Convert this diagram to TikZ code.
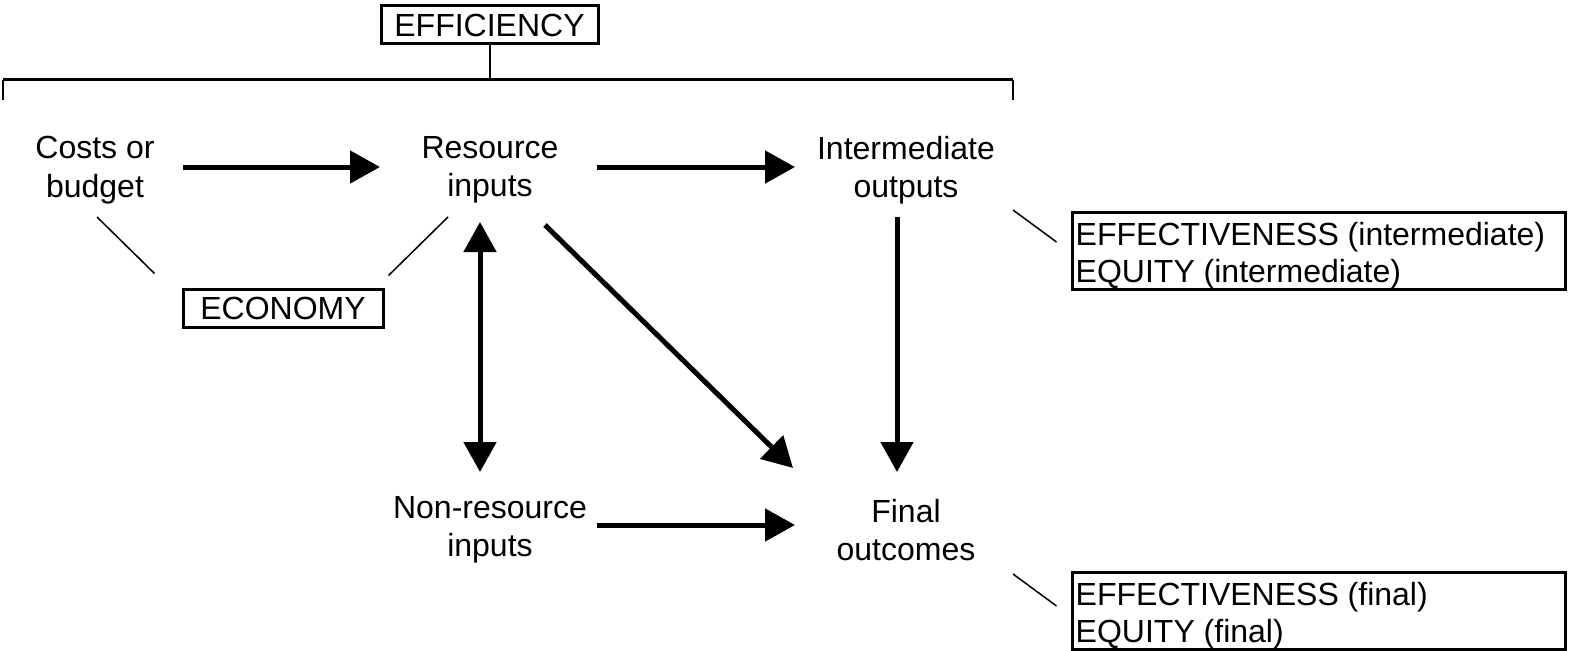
\documentclass[tikz,border=0pt]{standalone}
\usepackage{fontspec}
\setmainfont{Liberation Sans}
\usetikzlibrary{arrows.meta}
\begin{document}
\begin{tikzpicture}[x=1bp,y=-1bp,
  lbl/.style={align=center,font=\fontsize{32bp}{38.5bp}\selectfont,inner sep=0pt},
  boxlbl/.style={draw,line width=3bp,inner sep=0pt,font=\fontsize{32bp}{38bp}\selectfont},
  sidebox/.style={draw,line width=3bp,inner sep=0pt,minimum width=493bp,minimum height=77bp},
  sidetext/.style={inner sep=0pt,anchor=west,align=left,font=\fontsize{32bp}{37.5bp}\selectfont},
  arr/.style={line width=5bp,-{Triangle[length=30bp,width=32bp]}},
  dbl/.style={line width=5bp,{Triangle[length=30bp,width=32bp]}-{Triangle[length=30bp,width=32bp]}},
  thin/.style={line width=1.5bp}]
\useasboundingbox (0,0) rectangle (1570,651);
% nodes
\node[boxlbl,minimum width=217bp,minimum height=38bp] (eff) at (489.5,25) {EFFICIENCY};
\node[lbl] (cost) at (95,170) {Costs or\\budget};
\node[lbl] (res) at (490,170) {Resource\\inputs};
\node[lbl] (inter) at (906,170) {Intermediate\\outputs};
\node[lbl] (non) at (490,530) {Non-resource\\inputs};
\node[lbl] (final) at (906,530) {Final\\outcomes};
\node[boxlbl,minimum width=200bp,minimum height=38bp] (eco) at (283,308) {ECONOMY};
\node[sidebox] (effint) at (1318.5,250.5) {};
\node[sidetext] (effinttxt) at ([shift={(5,5)}]effint.west) {EFFECTIVENESS (intermediate)\\EQUITY (intermediate)};
\node[sidebox] (efffin) at (1318.5,610.5) {};
\node[sidetext] (efffintxt) at ([shift={(5,5)}]efffin.west) {EFFECTIVENESS (final)\\EQUITY (final)};
% bracket
\coordinate (bl) at (3,80);
\coordinate (br) at (1013,80);
\draw[line width=3bp] (bl) -- (br);
\draw[line width=2bp] (bl) -- ++(0,20);
\draw[line width=2bp] (br) -- ++(0,20);
\draw[line width=2bp] (eff.south) -- (eff.south |- bl);
% arrows
\draw[arr,shorten <=88bp,shorten >=110bp] ([shift={(0,-3)}]cost.center) -- ([shift={(0,-3)}]res.center);
\draw[arr,shorten <=107bp,shorten >=111bp] ([shift={(0,-3)}]res.center) -- ([shift={(0,-3)}]inter.center);
\draw[arr,shorten <=107bp,shorten >=111bp] ([shift={(0,-5)}]non.center) -- ([shift={(0,-5)}]final.center);
\draw[dbl] ([shift={(-10,52)}]res.center) -- ([shift={(-10,-58)}]non.center);
\draw[arr] ([shift={(-9,47)}]inter.center) -- ([shift={(-9,-58)}]final.center);
\draw[arr] ([shift={(55,55)}]res.center) -- ([shift={(-113,-62)}]final.center);
% thin connectors
\draw[thin] ([shift={(2,47)}]cost.center) -- ([shift={(-27,-14)}]eco.north west);
\draw[thin] ([shift={(-42,47)}]res.center) -- ([shift={(4,-12)}]eco.north east);
\draw[thin] ([shift={(107,40)}]inter.center) -- ([shift={(-14,-8.5)}]effint.west);
\draw[thin] ([shift={(107,44)}]final.center) -- ([shift={(-14,-4.5)}]efffin.west);
\end{tikzpicture}
\end{document}
